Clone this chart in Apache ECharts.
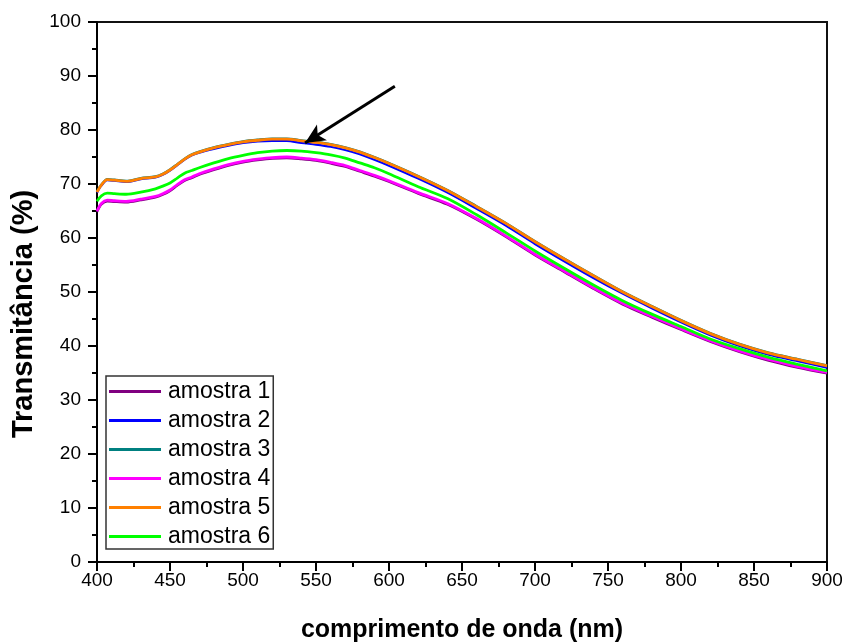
<!DOCTYPE html>
<html>
<head>
<meta charset="utf-8">
<script src="https://cdn.jsdelivr.net/npm/echarts@6/dist/echarts.min.js"></script>
<style>html,body{margin:0;padding:0;background:#fff}#c{width:842px;height:644px}</style>
</head>
<body>
<div id="c"></div>
<script>
const wavelength = [400,403,407,412,420,430,440,445,450,455,460,465,470,480,490,500,510,520,530,540,550,560,570,580,590,600,620,640,660,680,700,720,740,760,780,800,820,840,860,880,900];

const amostra5 = [68.5,69.8,70.8,70.7,70.5,71.0,71.3,71.8,72.6,73.6,74.6,75.4,75.9,76.7,77.3,77.8,78.1,78.3,78.3,78.0,77.7,77.3,76.7,75.9,74.9,73.8,71.4,68.8,65.8,62.7,59.3,56.1,53.0,50.0,47.3,44.7,42.3,40.3,38.7,37.5,36.3];
const amostra2 = [68.4,69.7,70.7,70.6,70.4,70.9,71.2,71.7,72.5,73.5,74.5,75.3,75.8,76.5,77.1,77.6,77.9,78.0,78.0,77.6,77.3,76.9,76.3,75.5,74.5,73.4,71.0,68.4,65.4,62.3,58.9,55.7,52.6,49.7,47.0,44.4,42.0,40.0,38.4,37.2,36.0];
const amostra3 = [68.6,69.9,70.9,70.8,70.6,71.1,71.4,71.9,72.7,73.7,74.7,75.5,76.0,76.8,77.4,77.9,78.2,78.4,78.4,78.1,77.8,77.4,76.8,76.0,75.0,73.9,71.5,68.9,65.9,62.8,59.4,56.2,53.1,50.1,47.4,44.8,42.4,40.4,38.8,37.6,36.4];
const amostra6 = [66.8,67.8,68.3,68.2,68.1,68.5,69.1,69.6,70.2,71.1,72.0,72.5,73.0,73.9,74.7,75.3,75.8,76.1,76.2,76.1,75.8,75.4,74.8,73.9,73.0,71.9,69.5,67.3,64.3,61.0,57.6,54.4,51.3,48.4,45.9,43.6,41.3,39.5,37.9,36.6,35.4];
const amostra4 = [65.0,66.4,67.0,66.9,66.8,67.2,67.7,68.2,68.9,69.9,70.8,71.3,71.9,72.8,73.6,74.2,74.6,74.9,75.0,74.8,74.5,74.0,73.4,72.5,71.6,70.6,68.4,66.4,63.6,60.4,57.0,53.9,50.8,47.9,45.5,43.2,41.0,39.1,37.5,36.2,35.1];
const amostra1 = [64.8,66.2,66.8,66.7,66.6,67.0,67.5,68.0,68.7,69.7,70.6,71.1,71.7,72.6,73.4,74.0,74.4,74.7,74.8,74.6,74.3,73.8,73.2,72.3,71.4,70.4,68.2,66.2,63.4,60.2,56.8,53.7,50.6,47.7,45.3,43.0,40.8,38.9,37.3,36.0,34.9];

const seriesNames = ['amostra 1','amostra 2','amostra 3','amostra 4','amostra 5','amostra 6'];
const seriesColors = ['#800080','#0000ff','#008080','#ff00ff','#ff8000','#00ff00'];
const seriesValues = [amostra1, amostra2, amostra3, amostra4, amostra5, amostra6];

const arrowStart = [604, 88.1];
const arrowEnd = [542.5, 77.6];

const font = 'Liberation Sans, Arial, sans-serif';

const series = seriesNames.map((name, i) => {
  const s = {
    name: name,
    type: 'line',
    data: wavelength.map((w, j) => [w, seriesValues[i][j]]),
    showSymbol: false,
    symbol: 'none',
    lineStyle: { color: seriesColors[i], width: (i === 1 || i === 2 || i === 0) ? 2.2 : 2.8 },
    itemStyle: { color: seriesColors[i] },
    smooth: 0.3,
    animation: false
  };
  if (i === 5) {
    s.markLine = {
      silent: true,
      symbol: ['none', 'arrow'],
      symbolSize: [14, 20],
      lineStyle: { color: '#000', width: 3, type: 'solid' },
      label: { show: false },
      animation: false,
      data: [[{ coord: arrowStart }, { coord: arrowEnd }]]
    };
  }
  return s;
});

const chart = echarts.init(document.getElementById('c'), null, { renderer: 'canvas' });
chart.setOption({
  animation: false,
  backgroundColor: '#fff',
  grid: { left: 97, right: 15, top: 22, bottom: 82, show: true, borderColor: '#111', borderWidth: 2, containLabel: false, outerBoundsMode: 'none' },
  legend: {
    orient: 'vertical',
    left: 106,
    top: 376,
    itemWidth: 52,
    itemHeight: 3,
    itemGap: 6,
    padding: [4, 3, 1, 3],
    borderColor: '#333',
    borderWidth: 1.5,
    borderRadius: 0,
    textStyle: { fontFamily: font, fontSize: 23, color: '#000', padding: [0, 0, 0, 2] },
    data: seriesNames.map((n) => ({ name: n, icon: 'rect' }))
  },
  xAxis: {
    type: 'value',
    min: 400, max: 900, interval: 50,
    name: 'comprimento de onda (nm)',
    nameLocation: 'middle',
    nameGap: 56,
    nameTextStyle: { fontFamily: font, fontSize: 25, fontWeight: 'bold', color: '#000' },
    axisLine: { show: true, onZero: false, lineStyle: { color: '#000', width: 2 } },
    axisTick: { show: true, inside: false, length: 9, lineStyle: { color: '#000', width: 2 } },
    minorTick: { show: true, splitNumber: 2, length: 5, lineStyle: { color: '#000', width: 2 } },
    axisLabel: { fontFamily: font, fontSize: 19, color: '#000', margin: 9 },
    splitLine: { show: false }
  },
  yAxis: {
    type: 'value',
    min: 0, max: 100, interval: 10,
    name: 'Transmitância (%)',
    nameLocation: 'middle',
    nameGap: 58,
    nameRotate: 90,
    nameTextStyle: { fontFamily: font, fontSize: 29, fontWeight: 'bold', color: '#000', padding: [0, 44, 0, 0] },
    axisLine: { show: true, onZero: false, lineStyle: { color: '#000', width: 2 } },
    axisTick: { show: true, inside: false, length: 9, lineStyle: { color: '#000', width: 2 } },
    minorTick: { show: true, splitNumber: 2, length: 5, lineStyle: { color: '#000', width: 2 } },
    axisLabel: { fontFamily: font, fontSize: 19, color: '#000', margin: 16 },
    splitLine: { show: false }
  },
  series: series
});
</script>
</body>
</html>
